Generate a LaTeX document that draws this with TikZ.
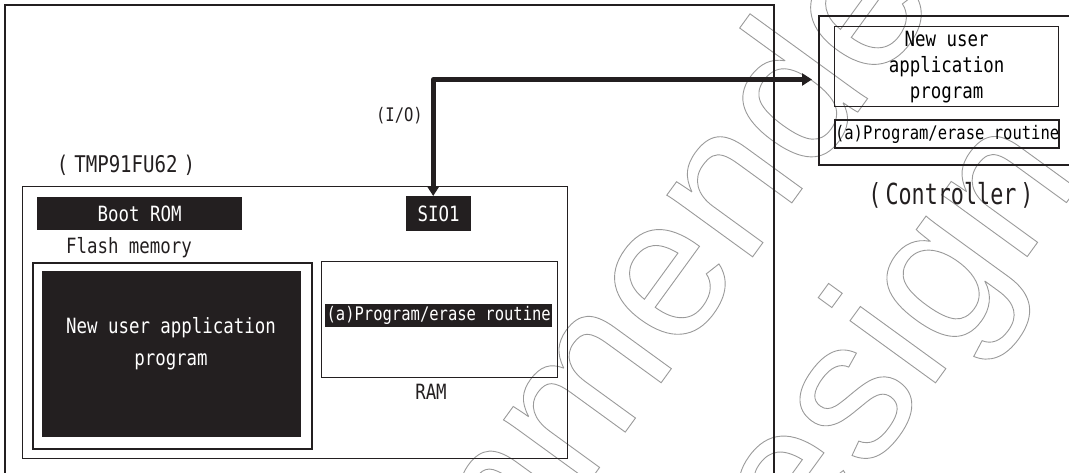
\documentclass[tikz,border=0pt]{standalone}
\usepackage{fontspec}
\setmainfont[FakeStretch=0.83]{DejaVu Sans Mono}
\newfontfamily\tallmono[FakeStretch=0.75]{DejaVu Sans Mono}
\newfontfamily\wmfont{Liberation Sans}
\usetikzlibrary{arrows.meta}
\definecolor{ink}{HTML}{231F20}
\definecolor{wmgray}{HTML}{9A9A9A}
\newcommand{\outlineon}{\special{pdf:literal direct 1 Tr 0.9 w}}
\newcommand{\outlineoff}{\special{pdf:literal direct 0 Tr}}
\begin{document}
\begin{tikzpicture}[x=1pt,y=-1pt,
  box/.style={draw=ink,inner sep=0pt,anchor=north west},
  blk/.style={fill=ink,text=white,inner sep=0pt,anchor=north west},
  lbl/.style={inner sep=0pt,text=ink},
  fbase/.style={font=\fontsize{21}{26}\selectfont},
  fsmall/.style={font=\fontsize{18.7}{20}\selectfont},
  ftmp/.style={font=\fontsize{23}{26}\selectfont},
  fctrl/.style={font=\tallmono\fontsize{29}{30}\selectfont},
  wm/.style={inner sep=0pt,anchor=base west,rotate=54,font=\wmfont\fontsize{200}{200}\selectfont,text=wmgray},
  bigarrow/.style={draw=ink,line width=5pt,line join=round,arrows={Triangle[width=12pt,length=10pt]-Triangle[width=12pt,length=10pt]}}
]
\useasboundingbox (0,0) rectangle (1069,472);
% watermark
\node[wm] (wm1) at (39,1239) {\outlineon Not recommended\outlineoff};
\node[wm] (wm2) at (320,1230) {\outlineon for new design\outlineoff};
% outer board
\draw[ink,line width=1.6pt] (5,475) -- (5,5) -- (774,5) -- (774,475);
% MCU
\node[box,line width=1.3pt,minimum width=545.5pt,minimum height=272pt] (mcu) at (21.5,186) {};
\node[lbl,ftmp] (tmp) at (126,165) {(\hspace{6pt}TMP91FU62\hspace{6pt})};
\node[blk,fbase,minimum width=205pt,minimum height=33pt] (boot) at (37,197) {Boot ROM};
\node[blk,fbase,minimum width=65pt,minimum height=35pt] (sio) at (406,196) {SIO1};
\node[lbl,fbase] (flashlbl) at (129,248) {Flash memory};
\node[box,line width=2.2pt,minimum width=279pt,minimum height=186pt] (flash) at (32,262) {};
\node[blk,minimum width=259pt,minimum height=166pt] (newapp) at (42,271) {};
\node[lbl,text=white,align=center,font=\fontsize{21}{32}\selectfont] (newapptxt) at (171,344) {New user application\\program};
\node[box,line width=1.3pt,minimum width=236pt,minimum height=116pt] (ram) at (321,261) {};
\node[blk,fsmall,minimum width=227pt,minimum height=23pt] (ramroutine) at (325,304) {(a)Program/erase routine};
\node[lbl,fbase] (ramlbl) at (431,392) {RAM};
% controller
\node[box,line width=2.4pt,minimum width=262pt,minimum height=149pt] (ctrl) at (818,15) {};
\node[box,line width=1.3pt,minimum width=224pt,minimum height=80pt,align=center,font=\fontsize{21}{26}\selectfont] (ctrlapp) at (834,26) {New user\\application\\program};
\node[box,line width=2pt,minimum width=224pt,minimum height=28pt,fsmall] (ctrlroutine) at (834,119) {(a)Program/erase routine};
\node[lbl,fctrl] (ctrllbl) at (951,195) {(\hspace{4pt}Controller\hspace{4pt})};
% connector
\coordinate (ioR) at (812,79.5);
\draw[bigarrow] ([xshift=-5.5pt]sio.north) |- (ioR);
\node[lbl,fsmall,anchor=east] (io) at (423,116) {(I/O)};
\end{tikzpicture}
\end{document}
